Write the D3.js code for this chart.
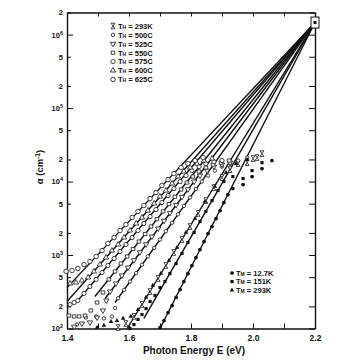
<!DOCTYPE html>
<html><head><meta charset="utf-8">
<script src="https://cdn.jsdelivr.net/npm/d3@7"></script>
<style>
body{margin:0;background:#fff}
text{font-family:"Liberation Sans",Arial,sans-serif;font-weight:bold;fill:#111}
</style>
</head><body>
<svg id="chart" width="363" height="361"></svg>
<script>
// ---------- data (photon energy E in eV, absorption alpha in cm^-1) ----------
const xTickValues = [1.4,1.5,1.6,1.7,1.8,1.9,2.0,2.1,2.2];
const xTickLabels = [1.4,1.6,1.8,2.0,2.2];
const yTickValues = [100,200,500,1e3,2e3,5e3,1e4,2e4,5e4,1e5,2e5,5e5,1e6,2e6];

const legendTop = ["293K","500C","525C","550C","575C","600C","625C"];
const legendBottom = ["12.7K","151K","293K"];

const focusPoint = [2.2, 1.46e6];
const lineLowEnds = [[1.40,360],[1.40,233],[1.435,240],[1.490,273],[1.523,256],[1.555,226],[1.594,100],[1.648,137],[1.700,100]];

const sH293 = [[1.565,103],[1.590,117],[1.616,146],[1.642,212],[1.668,319],[1.694,479],[1.719,720],[1.745,1082],[1.771,1625],[1.797,2445],[1.823,3675],[1.848,5510],[1.874,8280],[1.900,11350],[1.926,14550],[1.952,17550],[1.981,18100],[2.000,20550],[2.013,21200],[2.029,24000]];
const sH500 = [[1.432,113],[1.461,141],[1.494,146],[1.519,137],[1.545,146],[1.555,190],[1.565,258],[1.584,336],[1.603,436],[1.623,568],[1.642,738],[1.661,960],[1.681,1250],[1.700,1625],[1.719,2110],[1.739,2750],[1.758,3580],[1.777,4660],[1.797,6060],[1.816,7930],[1.835,10000],[1.855,12050],[1.877,14100],[1.900,16000],[1.926,17550],[1.952,19300],[1.981,21200]];
const sH525 = [[1.423,106],[1.448,117],[1.474,121],[1.497,141],[1.516,176],[1.527,240],[1.539,319],[1.558,410],[1.577,527],[1.597,676],[1.616,850],[1.635,1090],[1.655,1400],[1.674,1785],[1.694,2295],[1.713,2930],[1.732,3740],[1.752,4800],[1.771,6180],[1.790,7850],[1.810,10000],[1.829,12050],[1.852,14100],[1.874,16000],[1.900,17000],[1.926,18100]];
const sH550 = [[1.406,150],[1.423,146],[1.439,146],[1.458,150],[1.477,176],[1.497,226],[1.516,309],[1.535,465],[1.555,597],[1.574,766],[1.594,954],[1.613,1205],[1.632,1525],[1.652,1930],[1.671,2445],[1.690,3080],[1.710,3920],[1.729,4930],[1.748,6210],[1.768,7800],[1.787,9690],[1.806,11700],[1.826,13700],[1.848,15500],[1.871,17000],[1.897,18100],[1.923,19300]];
const sH575 = [[1.410,212],[1.423,226],[1.435,240],[1.455,300],[1.474,373],[1.494,465],[1.513,578],[1.532,720],[1.552,896],[1.571,1116],[1.590,1390],[1.610,1730],[1.629,2155],[1.648,2685],[1.668,3345],[1.687,4160],[1.706,5180],[1.726,6450],[1.745,8030],[1.765,10000],[1.784,12050],[1.803,14100],[1.826,16000],[1.848,17550],[1.874,18650],[1.900,19300]];
const sH600 = [[1.410,410],[1.429,423],[1.448,450],[1.468,495],[1.487,597],[1.506,742],[1.526,925],[1.545,1150],[1.565,1390],[1.584,1730],[1.603,2155],[1.623,2685],[1.642,3240],[1.661,4030],[1.681,5030],[1.700,6250],[1.719,7540],[1.739,9400],[1.758,11700],[1.777,13700],[1.797,15500],[1.819,17550],[1.842,19300],[1.868,20550]];
const sH625 = [[1.397,600],[1.416,615],[1.435,655],[1.455,740],[1.474,815],[1.494,954],[1.513,1150],[1.532,1435],[1.552,1730],[1.571,2155],[1.590,2600],[1.610,3240],[1.629,3920],[1.648,4720],[1.668,5870],[1.687,7090],[1.706,8820],[1.726,10650],[1.745,12850],[1.768,15500],[1.790,17550],[1.813,19300],[1.839,21200]];

const sM127 = [[1.700,103],[1.713,128],[1.726,165],[1.739,205],[1.752,265],[1.765,339],[1.777,436],[1.790,560],[1.803,720],[1.816,925],[1.829,1187],[1.842,1525],[1.855,1960],[1.868,2445],[1.881,3140],[1.894,4030],[1.906,5180],[1.919,6660],[1.935,8030],[1.968,9100],[1.997,11700],[2.029,15000],[2.061,19300]];
const sM151 = [[1.603,100],[1.616,113],[1.629,133],[1.642,155],[1.655,187],[1.668,233],[1.684,282],[1.700,361],[1.716,436],[1.732,560],[1.752,766],[1.771,1049],[1.790,1480],[1.810,2025],[1.829,2860],[1.848,3920],[1.868,5510],[1.887,7540],[1.906,10000],[1.935,11700],[1.968,11000],[1.997,14100],[2.029,18100]];
const sM293 = [[1.497,103],[1.519,110],[1.542,124],[1.561,128],[1.581,137],[1.606,146],[1.629,181],[1.655,265],[1.677,385],[1.703,560],[1.729,842],[1.755,1265],[1.784,2025],[1.813,3140],[1.845,5350],[1.877,8550],[1.913,13250],[1.945,17550],[1.981,19900]];

// ---------- drawing ----------
const svg = d3.select("#chart");
const x = d3.scaleLinear().domain([1.4,2.2]).range([67,315]);
const y = d3.scaleLog().domain([100,2e6]).range([328.5,12.5]);

const sym = {
  hour: "M-2,-2.8H2L-2,2.8H2Z",
  circS: d3.symbol(d3.symbolCircle,9)(),
  tri: d3.symbol(d3.symbolTriangle,12)(),
  sq: "M-1.8,-1.6H1.8V1.6H-1.8Z",
  circM: d3.symbol(d3.symbolCircle,14)(),
  circL: d3.symbol(d3.symbolCircle,16)(),
  fCirc: d3.symbol(d3.symbolCircle,11)(),
  fSq: "M-1.6,-1.6H1.6V1.6H-1.6Z",
  fTri: d3.symbol(d3.symbolTriangle,9)()
};
const openSeries = [
  {data:sH293, s:"hour", rot:0},
  {data:sH500, s:"circS", rot:0},
  {data:sH525, s:"tri", rot:180},
  {data:sH550, s:"sq", rot:0},
  {data:sH575, s:"circM", rot:0},
  {data:sH600, s:"tri", rot:0},
  {data:sH625, s:"circL", rot:0}
];
const filledSeries = [
  {data:sM127, s:"fCirc", rot:0},
  {data:sM151, s:"fSq", rot:0},
  {data:sM293, s:"fTri", rot:0}
];

// fitted Urbach lines converging at the focus
const line = d3.line().x(d=>x(d[0])).y(d=>y(d[1]));
svg.append("g").selectAll("path").data(lineLowEnds).join("path")
  .attr("d", d=>line([d, focusPoint]))
  .attr("fill","none").attr("stroke","#111").attr("stroke-width",1.4);

// axes
const axStyle = g => { g.select(".domain").attr("stroke","#111").attr("stroke-width",1.4);
  g.selectAll(".tick line").attr("stroke","#111").attr("stroke-width",1); };
const gB = svg.append("g").attr("transform","translate(0,328.5)")
  .call(d3.axisBottom(x).tickValues(xTickValues).tickSizeInner(-5).tickSizeOuter(0).tickPadding(6)
    .tickFormat(d=> xTickLabels.some(v=>Math.abs(v-d)<1e-9) ? d.toFixed(1) : ""));
gB.call(axStyle); gB.selectAll("text").attr("font-size",8.5).attr("font-family","Liberation Sans").attr("font-weight","bold");
const gT = svg.append("g").attr("transform","translate(0,12.5)")
  .call(d3.axisTop(x).tickValues(xTickValues).tickSizeInner(-4).tickSizeOuter(0).tickFormat(""));
gT.call(axStyle);
const isDecade = d => Math.abs(Math.log10(d)-Math.round(Math.log10(d)))<1e-9;
const gL = svg.append("g").attr("transform","translate(67,0)")
  .call(d3.axisLeft(y).tickValues(yTickValues).tickSizeInner(-5).tickSizeOuter(0).tickPadding(4)
    .tickFormat(d=> isDecade(d) ? "10" : String(Math.round(d/Math.pow(10,Math.floor(Math.log10(d)))))));
gL.call(axStyle);
gL.selectAll(".tick line").attr("x2", d=> isDecade(d) ? 6 : 4);
gL.selectAll(".tick text").attr("font-size",7.5).attr("font-family","Liberation Sans").attr("font-weight","bold")
  .each(function(d){ if(isDecade(d)){ d3.select(this).append("tspan").attr("dy",-3).attr("font-size",5.5).text(Math.round(Math.log10(d))); }});
const gR = svg.append("g").attr("transform","translate(315,0)")
  .call(d3.axisRight(y).tickValues(yTickValues).tickSizeInner(-6).tickSizeOuter(0).tickFormat(""));
gR.call(axStyle);

// data points
openSeries.forEach(sr=>{
  svg.append("g").selectAll("path").data(sr.data).join("path")
    .attr("d", sym[sr.s])
    .attr("transform", d=>`translate(${x(d[0])},${y(d[1])}) rotate(${sr.rot})`)
    .attr("fill","#fff").attr("stroke","#222").attr("stroke-width",0.85);
});
filledSeries.forEach(sr=>{
  svg.append("g").selectAll("path").data(sr.data).join("path")
    .attr("d", sym[sr.s])
    .attr("transform", d=>`translate(${x(d[0])},${y(d[1])}) rotate(${sr.rot})`)
    .attr("fill","#111").attr("stroke","none");
});

// focus marker
const fx = x(focusPoint[0]), fy = y(focusPoint[1]);
svg.append("rect").attr("x",fx-4).attr("y",fy-5.5).attr("width",8).attr("height",11)
  .attr("fill","#fff").attr("stroke","#111").attr("stroke-width",1);
svg.append("rect").attr("x",fx-1.5).attr("y",fy-1.5).attr("width",3).attr("height",3).attr("fill","#111");

// legends
const legT = svg.append("g");
legendTop.forEach((lab,i)=>{
  const yy = 26 + i*8.9;
  const sr = openSeries[i];
  legT.append("path").attr("d", sym[sr.s]).attr("transform",`translate(113,${yy}) rotate(${sr.rot})`)
    .attr("fill","#fff").attr("stroke","#222").attr("stroke-width",0.85);
  const t = legT.append("text").attr("x",118).attr("y",yy+2.8).attr("font-size",7.5);
  t.append("tspan").text("T");
  t.append("tspan").attr("font-size",5).text("H");
  t.append("tspan").text(" = " + lab);
});
const legB = svg.append("g");
legendBottom.forEach((lab,i)=>{
  const yy = 273 + i*8.6;
  const sr = filledSeries[i];
  legB.append("path").attr("d", sym[sr.s]).attr("transform",`translate(232,${yy})`).attr("fill","#111");
  const t = legB.append("text").attr("x",236).attr("y",yy+2.8).attr("font-size",7.5);
  t.append("tspan").text("T");
  t.append("tspan").attr("font-size",5).text("M");
  t.append("tspan").text(" = " + lab);
});

// axis titles
svg.append("text").attr("x",194).attr("y",354).attr("text-anchor","middle").attr("font-size",10)
  .text("Photon Energy E (eV)");
const yt = svg.append("text").attr("transform","translate(43,167) rotate(-90)").attr("text-anchor","middle").attr("font-size",9.5);
yt.append("tspan").text("α (cm");
yt.append("tspan").attr("dy",-3).attr("font-size",6.5).text("-1");
yt.append("tspan").attr("dy",3).text(")");
</script>
</body></html>
